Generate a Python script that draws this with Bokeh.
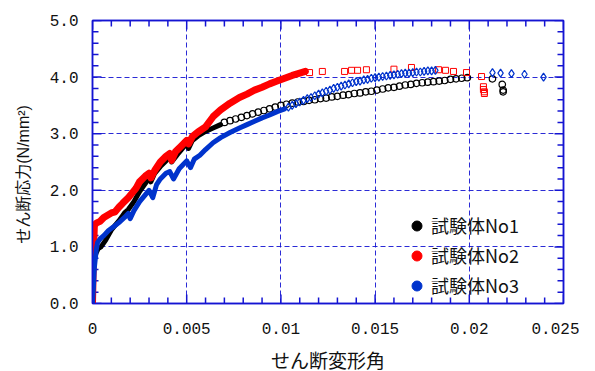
import math
from bokeh.plotting import figure
from bokeh.models import (FixedTicker, LinearAxis, Legend, LegendItem, Range1d)
from bokeh.embed import file_html
from bokeh.resources import INLINE

# ---------------- data ----------------
x_ticks = [0, 0.005, 0.01, 0.015, 0.02, 0.025]
x_tick_labels = ["0", "0.005", "0.01", "0.015", "0.02", "0.025"]
x_minor = [0.001, 0.002, 0.003, 0.004, 0.006, 0.007, 0.008, 0.009, 0.011, 0.012,
           0.013, 0.014, 0.016, 0.017, 0.018, 0.019, 0.021, 0.022, 0.023, 0.024]
y_ticks = [0, 1, 2, 3, 4, 5]
y_tick_labels = ["0.0", "1.0", "2.0", "3.0", "4.0", "5.0"]
y_minor = [0.2, 0.4, 0.6, 0.8, 1.2, 1.4, 1.6, 1.8, 2.2, 2.4, 2.6, 2.8, 3.2, 3.4, 3.6,
           3.8, 4.2, 4.4, 4.6, 4.8]

series_names = ["試験体No1", "試験体No2", "試験体No3"]
x_label = "せん断変形角"
y_label = "せん断応力(N/mm²)"

# No1 (black)
no1_dense_x = [0, 0.00002, 0.00005, 0.0001, 0.0002, 0.0003, 0.00045, 0.0007, 0.001, 0.0014,
               0.0017, 0.0019, 0.0022, 0.0025, 0.0028, 0.003, 0.0031, 0.0033, 0.0036, 0.0039,
               0.0041, 0.0042, 0.0045, 0.0048, 0.005, 0.0051, 0.0053, 0.0056, 0.006, 0.0064,
               0.0068]
no1_dense_y = [0, 0.3, 0.6, 0.8, 0.9, 0.97, 1.0, 1.12, 1.3, 1.46,
               1.6, 1.66, 1.8, 1.98, 2.12, 2.22, 2.15, 2.3, 2.42, 2.52,
               2.58, 2.5, 2.63, 2.75, 2.82, 2.74, 2.88, 2.96, 3.04, 3.1,
               3.16]
no1_pts_x = [0.0070, 0.0073, 0.0076, 0.0079, 0.0082, 0.0085, 0.0088, 0.0091, 0.0094, 0.0097,
             0.0100, 0.0103, 0.0106, 0.0109, 0.0112, 0.0115, 0.0118, 0.0121, 0.0124, 0.0127,
             0.0130, 0.0133, 0.0136, 0.0139, 0.0142, 0.0145, 0.0148, 0.0151, 0.0154, 0.0157,
             0.0160, 0.0163, 0.0166, 0.0169, 0.0172, 0.0175, 0.0178, 0.0181, 0.0184, 0.0187,
             0.0190, 0.0193, 0.0196, 0.0199, 0.02123, 0.02175, 0.0218, 0.0218]
no1_pts_y = [3.20, 3.23, 3.26, 3.29, 3.32, 3.35, 3.38, 3.41, 3.44, 3.47,
             3.50, 3.52, 3.54, 3.56, 3.57, 3.59, 3.60, 3.62, 3.63, 3.65,
             3.66, 3.68, 3.69, 3.71, 3.72, 3.74, 3.75, 3.77, 3.79, 3.81,
             3.82, 3.84, 3.86, 3.87, 3.89, 3.90, 3.91, 3.92, 3.93, 3.94,
             3.96, 3.97, 3.98, 3.99, 3.97, 3.87, 3.77, 3.74]

# No2 (red)
no2_dense_x = [0, 0.00003, 0.00006, 0.0001, 0.0002, 0.0004, 0.0006, 0.0008, 0.001, 0.0012,
               0.0014, 0.0016, 0.0019, 0.0021, 0.0023, 0.0025, 0.0028, 0.003, 0.0031, 0.0033,
               0.0036, 0.0039, 0.0041, 0.0042, 0.0044, 0.0047, 0.005, 0.0051, 0.0053, 0.0056,
               0.006, 0.0064, 0.0068, 0.0073, 0.0078, 0.0082, 0.0086, 0.009, 0.0094, 0.0098,
               0.0102, 0.0106, 0.011, 0.0113]
no2_dense_y = [0, 0.5, 1.0, 1.38, 1.42, 1.45, 1.52, 1.56, 1.6, 1.62,
               1.7, 1.77, 1.87, 1.95, 2.03, 2.15, 2.25, 2.3, 2.22, 2.35,
               2.5, 2.6, 2.65, 2.53, 2.68, 2.78, 2.88, 2.82, 2.95, 3.03,
               3.12, 3.3, 3.42, 3.54, 3.64, 3.7, 3.77, 3.82, 3.88, 3.93,
               3.98, 4.03, 4.07, 4.1]
no2_pts_x = [0.01152, 0.0122, 0.01338, 0.01375, 0.01407, 0.01454, 0.016, 0.01693, 0.01837,
             0.01874, 0.01916, 0.01985, 0.02065, 0.02075, 0.02075, 0.0208, 0.0208]
no2_pts_y = [4.08, 4.10, 4.10, 4.12, 4.12, 4.13, 4.14, 4.17, 4.13,
             4.12, 4.10, 4.08, 4.01, 3.83, 3.78, 3.71, 3.74]

# No3 (blue)
no3_dense_x = [0, 0.00005, 0.0001, 0.0002, 0.00027, 0.0004, 0.0006, 0.00085, 0.0011, 0.0014,
               0.0017, 0.0019, 0.002, 0.0022, 0.0025, 0.0028, 0.003, 0.0032, 0.0034, 0.0036,
               0.0039, 0.0041, 0.0043, 0.0046, 0.005, 0.0052, 0.0054, 0.0057, 0.006, 0.0064,
               0.0068, 0.0073, 0.0078, 0.0082, 0.0086, 0.009, 0.0094, 0.0098, 0.0102]
no3_dense_y = [0, 0.3, 0.64, 0.95, 1.08, 1.14, 1.2, 1.29, 1.35, 1.43,
               1.52, 1.59, 1.5, 1.64, 1.8, 1.92, 2.0, 1.87, 2.1, 2.2,
               2.3, 2.33, 2.2, 2.38, 2.52, 2.4, 2.55, 2.62, 2.72, 2.84,
               2.93, 3.02, 3.1, 3.16, 3.22, 3.28, 3.33, 3.39, 3.44]
no3_pts_x = [0.0104, 0.0106, 0.0108, 0.0110, 0.0112, 0.0114, 0.0116, 0.0118, 0.0120, 0.0122,
             0.0124, 0.0126, 0.0128, 0.0130, 0.0132, 0.0134, 0.0136, 0.0138, 0.0140, 0.0142,
             0.0144, 0.0146, 0.0148, 0.0150, 0.0152, 0.0154, 0.0156, 0.0158, 0.0160, 0.0162,
             0.0164, 0.0166, 0.0168, 0.0170, 0.0172, 0.0174, 0.0176, 0.0178, 0.0180, 0.0182,
             0.02123, 0.02166, 0.02224, 0.02293, 0.02394]
no3_pts_y = [3.47, 3.50, 3.53, 3.56, 3.59, 3.62, 3.64, 3.67, 3.70, 3.72,
             3.75, 3.77, 3.80, 3.82, 3.84, 3.86, 3.88, 3.90, 3.92, 3.93,
             3.95, 3.96, 3.98, 3.99, 4.00, 4.01, 4.02, 4.03, 4.04, 4.05,
             4.06, 4.07, 4.07, 4.08, 4.09, 4.09, 4.10, 4.11, 4.11, 4.12,
             4.08, 4.07, 4.06, 4.05, 4.00]

# ---------------- styles ----------------
AX = "#1414d2"
BLACK = "#000000"
RED = "#ff0000"
BLUE = "#0033cc"
CJK = "Noto Sans CJK JP"
CJK_MIX = "'Liberation Sans', 'Noto Sans CJK JP', sans-serif"
MONO = "Liberation Mono"
MAJ_LEN = 9
MIN_LEN = 6

X0, X1, Y0, Y1 = 0, 0.025, 0, 5

p = figure(x_range=Range1d(X0, X1), y_range=Range1d(Y0, Y1),
           frame_width=471, frame_height=283,
           min_border_left=92, min_border_right=16, min_border_top=20, min_border_bottom=60,
           output_backend="svg", toolbar_location=None,
           background_fill_color="white", border_fill_color="white")
p.outline_line_color = AX
p.outline_line_width = 1.5

xt = FixedTicker(ticks=x_ticks, minor_ticks=x_minor)
yt = FixedTicker(ticks=y_ticks, minor_ticks=y_minor)

for ax, t, labs in ((p.xaxis[0], xt, x_tick_labels), (p.yaxis[0], yt, y_tick_labels)):
    ax.ticker = t
    ax.major_label_overrides = dict(zip(t.ticks, labs))
    ax.axis_line_color = AX
    ax.axis_line_width = 1.5
    ax.major_tick_line_color = None
    ax.minor_tick_line_color = None
    ax.major_tick_in = 0
    ax.major_tick_out = 0
    ax.minor_tick_in = 0
    ax.minor_tick_out = 0
    ax.major_label_text_font = MONO
    ax.major_label_text_font_size = "16px"
    ax.major_label_text_color = "#111111"
    ax.axis_label_text_font = CJK_MIX
    ax.axis_label_text_font_style = "normal"
    ax.axis_label_text_color = "#111111"

# trailing non-collapsing blanks nudge the rotated title down to where the reference has it
p.xaxis[0].axis_label = x_label
p.yaxis[0].axis_label = y_label + "\u3000\u00a0\u00a0"
p.xaxis[0].axis_label_text_font_size = "19px"
p.yaxis[0].axis_label_text_font_size = "16px"
p.xaxis[0].major_label_standoff = 19
p.xaxis[0].axis_label_standoff = 14
p.yaxis[0].major_label_standoff = 14
p.yaxis[0].axis_label_standoff = 15

for side in ("right", "above"):
    a = LinearAxis(ticker=FixedTicker(ticks=[]))
    a.major_label_text_font_size = "0px"
    a.major_label_standoff = 0
    a.axis_line_color = AX
    a.axis_line_width = 1.5
    a.major_tick_in = 0
    a.major_tick_out = 0
    a.minor_tick_in = 0
    a.minor_tick_out = 0
    p.add_layout(a, side)

p.xgrid.ticker = xt
p.ygrid.ticker = yt
for g in (p.xgrid[0], p.ygrid[0]):
    g.grid_line_color = AX
    g.grid_line_dash = "5 3"
    g.grid_line_width = 1
    g.grid_line_alpha = 0.9

# inward tick marks on all four sides (dash markers centred on the frame edge,
# the outer half is clipped by the frame)
for ticks, size in ((x_ticks, 2 * MAJ_LEN), (x_minor, 2 * MIN_LEN)):
    for yy in (Y0, Y1):
        p.scatter(ticks, [yy] * len(ticks), marker="dash", size=size, angle=math.pi / 2,
                  line_color=AX, line_width=1.5)
for ticks, size in ((y_ticks, 2 * MAJ_LEN), (y_minor, 2 * MIN_LEN)):
    for xx in (X0, X1):
        p.scatter([xx] * len(ticks), ticks, marker="dash", size=size,
                  line_color=AX, line_width=1.5)

# black
p.line(no1_dense_x, no1_dense_y, line_color=BLACK, line_width=5, line_join="round", line_cap="round")
p.scatter(no1_pts_x, no1_pts_y, marker="circle", size=6.5, fill_color=None, line_color=BLACK, line_width=1.2)
# red
p.line(no2_dense_x, no2_dense_y, line_color=RED, line_width=7, line_join="round", line_cap="round")
p.scatter(no2_pts_x, no2_pts_y, marker="square", size=6, fill_color=None, line_color=RED, line_width=1)
# blue
p.line(no3_dense_x, no3_dense_y, line_color=BLUE, line_width=5, line_join="round", line_cap="round")
p.scatter(no3_pts_x, no3_pts_y, marker="diamond", size=8, fill_color=None, line_color=BLUE, line_width=1.2)

# legend (filled circles; renderers hold a single NaN point so nothing is drawn in the plot)
items = []
for name, col in zip(series_names, (BLACK, RED, BLUE)):
    r = p.scatter(x=[float("nan")], y=[float("nan")], marker="circle", size=10,
                  fill_color=col, line_color=col)
    items.append(LegendItem(label=name, renderers=[r]))
leg = Legend(items=items, location=(312, 5), orientation="vertical",
             glyph_width=25, glyph_height=25, label_height=25, spacing=4,
             padding=0, margin=0, label_standoff=2,
             label_text_font=CJK, label_text_font_size="18px", label_text_color="#111111",
             background_fill_alpha=0, border_line_alpha=0)
p.add_layout(leg)

open("out.html", "w").write(file_html(p, INLINE))
